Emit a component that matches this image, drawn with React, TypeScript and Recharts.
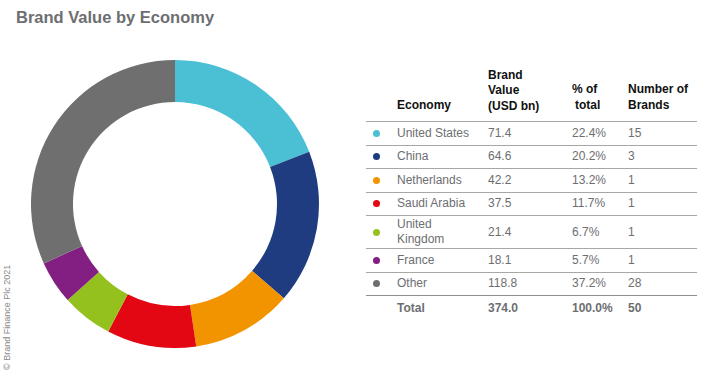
import React from "react";
import { PieChart, Pie, Cell } from "recharts";

const economies = ["United States", "China", "Netherlands", "Saudi Arabia", "United Kingdom", "France", "Other"];
const brandValues = [71.4, 64.6, 42.2, 37.5, 21.4, 18.1, 118.8];
const shareLabels = ["22.4%", "20.2%", "13.2%", "11.7%", "6.7%", "5.7%", "37.2%"];
const brandCounts = [15, 3, 1, 1, 1, 1, 28];
const sliceColors = ["#4bbfd4", "#1f3c80", "#f29400", "#e30613", "#95c11f", "#831f82", "#6f6f6f"];
const totalRow = { label: "Total", value: "374.0", share: "100.0%", count: "50" };

const pieData = economies.map((name, i) => ({ name, value: brandValues[i] }));

const FONT = "'Liberation Sans', Arial, Helvetica, sans-serif";
const GREY = "#6d6e71";
const RULE = "1px solid #a7a7a7";

const colW = { dot: 31, eco: 91, val: 84, pct: 56, cnt: 69 };

export default function App() {
  return (
    <div style={{ position: "fixed", left: 0, top: 0, width: 707, height: 382, background: "#fff", fontFamily: FONT, overflow: "hidden" }}>
      <div style={{ position: "absolute", left: 16, top: 8, fontSize: 16.5, fontWeight: 700, color: GREY }}>
        Brand Value by Economy
      </div>

      {/* Donut */}
      <div style={{ position: "absolute", left: 0, top: 0 }}>
        <PieChart width={350} height={382} margin={{ top: 0, right: 0, bottom: 0, left: 0 }}>
          <Pie data={pieData} dataKey="value" nameKey="name" cx={175} cy={204}
            innerRadius={102} outerRadius={144} startAngle={90} endAngle={-270}
            stroke="none" isAnimationActive={false}>
            {pieData.map((_, i) => <Cell key={i} fill={sliceColors[i]} />)}
          </Pie>
        </PieChart>
      </div>

      {/* Copyright */}
      <div style={{ position: "absolute", left: 8, top: 370, transform: "rotate(-90deg)", transformOrigin: "0 0",
        fontSize: 9, color: "#8a8a8a", whiteSpace: "nowrap", lineHeight: "9px", marginLeft: -5 }}>
        © Brand Finance Plc 2021
      </div>

      {/* Table */}
      <div style={{ position: "absolute", left: 366, top: 60, width: 331, fontSize: 12 }}>
        <div style={{ display: "flex", alignItems: "flex-end", height: 61, borderBottom: RULE, fontWeight: 700, color: "#111", lineHeight: "15.5px" }}>
          <div style={{ width: colW.dot }} />
          <div style={{ width: colW.eco, paddingBottom: 8 }}>Economy</div>
          <div style={{ width: colW.val, paddingBottom: 7 }}>Brand<br />Value<br />(USD bn)</div>
          <div style={{ width: colW.pct, paddingBottom: 8 }}>% of<br /><span style={{ marginLeft: 3 }}>total</span></div>
          <div style={{ width: colW.cnt, paddingBottom: 8 }}>Number of<br />Brands</div>
        </div>
        {economies.map((name, i) => (
          <div key={name} style={{ display: "flex", alignItems: "center", height: name === "United Kingdom" ? 32 : 22.5,
            borderBottom: i === economies.length - 1 ? "1px solid #8f8f8f" : RULE, color: GREY, lineHeight: "15px" }}>
            <div style={{ width: colW.dot, display: "flex", alignItems: "center" }}>
              <span style={{ display: "inline-block", width: 7, height: 7, borderRadius: "50%", background: sliceColors[i], marginLeft: 7 }} />
            </div>
            <div style={{ width: colW.eco }}><div style={{ maxWidth: 80 }}>{name}</div></div>
            <div style={{ width: colW.val }}>{brandValues[i].toFixed(1)}</div>
            <div style={{ width: colW.pct }}>{shareLabels[i]}</div>
            <div style={{ width: colW.cnt }}>{brandCounts[i]}</div>
          </div>
        ))}
        <div style={{ display: "flex", alignItems: "center", height: 24, color: GREY, fontWeight: 700 }}>
          <div style={{ width: colW.dot }} />
          <div style={{ width: colW.eco }}>{totalRow.label}</div>
          <div style={{ width: colW.val }}>{totalRow.value}</div>
          <div style={{ width: colW.pct }}>{totalRow.share}</div>
          <div style={{ width: colW.cnt }}>{totalRow.count}</div>
        </div>
      </div>
    </div>
  );
}
